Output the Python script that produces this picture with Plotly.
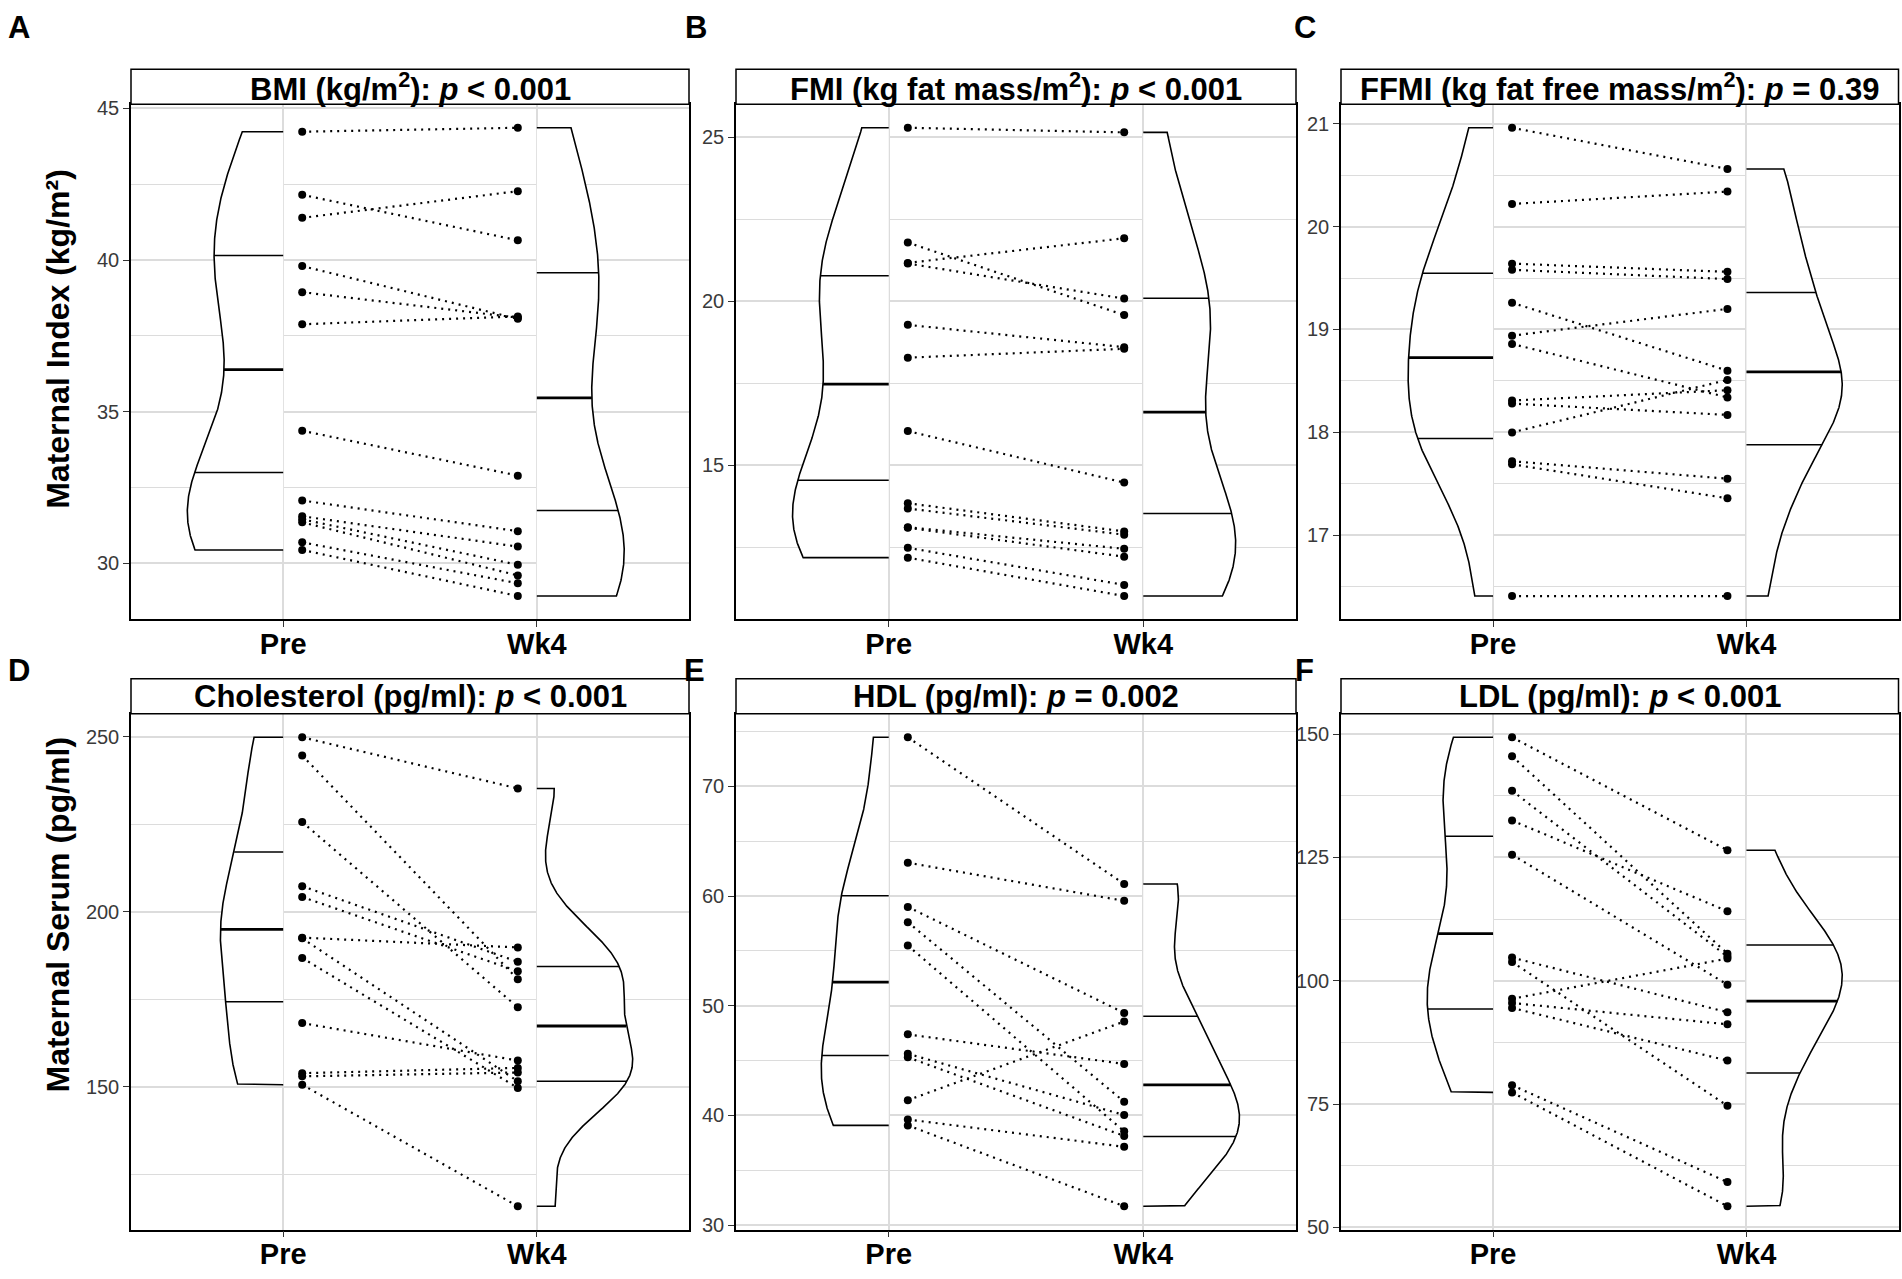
import numpy as np
import plotly.graph_objects as go

# ---------------- data ----------------
groups = ["Pre", "Wk4"]

bmi_pre = [44.23, 42.15, 41.39, 39.80, 38.94, 37.88, 34.37, 32.07, 31.55, 31.45, 31.35, 30.69, 30.44]
bmi_wk4 = [44.36, 40.65, 42.27, 38.06, 38.10, 38.14, 32.89, 31.06, 30.55, 29.95, 29.60, 29.34, 28.92]

fmi_pre = [25.29, 21.79, 21.17, 21.15, 19.28, 18.28, 16.04, 13.84, 13.68, 13.11, 13.09, 12.48, 12.18]
fmi_wk4 = [25.15, 19.58, 21.92, 20.08, 18.60, 18.55, 14.47, 12.98, 12.88, 12.45, 12.21, 11.35, 11.01]

ffmi_pre = [20.96, 20.22, 19.64, 19.58, 19.26, 18.94, 18.86, 18.31, 18.28, 18.00, 17.72, 17.69, 16.41]
ffmi_wk4 = [20.56, 20.34, 19.56, 19.49, 18.60, 19.20, 18.34, 18.41, 18.17, 18.51, 17.55, 17.36, 16.41]

chol_pre = [249.8, 244.6, 225.6, 207.3, 204.2, 192.6, 192.4, 186.8, 168.2, 153.9, 153.0, 150.6]
chol_wk4 = [235.2, 180.7, 172.7, 185.7, 183.0, 189.8, 151.6, 149.7, 157.5, 155.4, 154.1, 115.9]

hdl_pre = [74.47, 63.04, 59.01, 57.62, 55.49, 47.39, 45.62, 45.30, 41.39, 39.63, 39.09]
hdl_wk4 = [61.10, 59.56, 49.34, 41.25, 38.55, 44.69, 40.04, 38.13, 48.56, 37.14, 31.72]

ldl_pre = [149.35, 145.52, 138.52, 132.49, 125.57, 104.70, 103.82, 96.36, 95.50, 94.50, 78.84, 77.38]
ldl_wk4 = [126.47, 105.50, 104.90, 114.09, 99.22, 93.63, 74.67, 104.50, 91.17, 83.83, 59.20, 54.30]

panel_titles = ["BMI (kg/m<sup>2</sup>)", "FMI (kg fat mass/m<sup>2</sup>)",
                "FFMI (kg fat free mass/m<sup>2</sup>)", "Cholesterol (pg/ml)",
                "HDL (pg/ml)", "LDL (pg/ml)"]
p_texts = ["&lt; 0.001", "&lt; 0.001", "= 0.39", "&lt; 0.001", "= 0.002", "&lt; 0.001"]
panel_letters = ["A", "B", "C", "D", "E", "F"]
major_dticks = [5, 5, 1, 50, 10, 25]
row_titles = ["Maternal Index (kg/m²)", "Maternal Serum (pg/ml)"]

panels = [(bmi_pre, bmi_wk4), (fmi_pre, fmi_wk4), (ffmi_pre, ffmi_wk4),
          (chol_pre, chol_wk4), (hdl_pre, hdl_wk4), (ldl_pre, ldl_wk4)]

# ---------------- layout geometry (pixels) ----------------
FW, FH = 1902, 1279
col_x = [(131.0, 689.0), (736.0, 1296.0), (1341.0, 1898.5)]
row_y = [(98.6, 620.2), (715.8, 1238.2)]
strip_h = 35.6
letter_pos = [(19, 21), (696, 21), (1305, 21), (19, 672), (694, 672), (1304, 672)]
ytitle_pos = [(58, 336), (58, 919)]

FONT = "Liberation Sans, Arial, sans-serif"
GRID = "#DCDCDC"
VIOLIN_HALF = 0.378
NUDGE = 0.075


def px_x(p):
    return p / FW


def px_y(p):
    return 1 - p / FH


def kde(vals):
    v = np.asarray(vals, float)
    n = len(v)
    sd = v.std(ddof=1)
    q75, q25 = np.percentile(v, [75, 25])
    lo = min(sd, (q75 - q25) / 1.34)
    if lo <= 0:
        lo = sd
    bw = 0.9 * lo * n ** -0.2
    grid = np.linspace(v.min(), v.max(), 512)
    dens = np.exp(-0.5 * ((grid[:, None] - v[None, :]) / bw) ** 2).sum(1) / (n * bw * np.sqrt(2 * np.pi))
    return grid, dens


fig = go.Figure()
layout = dict(
    width=FW, height=FH, autosize=False,
    margin=dict(l=0, r=0, t=0, b=0),
    paper_bgcolor="white", plot_bgcolor="white",
    showlegend=False, font=dict(family=FONT, color="black"),
    shapes=[], annotations=[],
)

for i, (pre, wk4) in enumerate(panels):
    r, c = divmod(i, 3)
    k = i + 1
    xa = "x" if k == 1 else f"x{k}"
    ya = "y" if k == 1 else f"y{k}"
    xl, xr = col_x[c]
    yt, yb = row_y[r]

    allv = np.array(pre + wk4, float)
    span = allv.max() - allv.min()
    yr = [allv.min() - 0.05 * span, allv.max() + 0.05 * span]
    dt = major_dticks[i]

    common_ax = dict(showline=True, linecolor="black", linewidth=1.5, mirror=True,
                     ticks="outside", ticklen=6, tickwidth=1.3, tickcolor="#333333",
                     showgrid=True, gridcolor=GRID, gridwidth=1.5, zeroline=False)
    layout["xaxis" if k == 1 else f"xaxis{k}"] = dict(
        domain=[px_x(xl), px_x(xr)], anchor=ya, range=[0.4, 2.6],
        tickmode="array", tickvals=[1, 2], ticktext=groups, ticklabelstandoff=-8,
        tickfont=dict(size=29, color="black", family=FONT, weight="bold"),
        **common_ax)
    layout["yaxis" if k == 1 else f"yaxis{k}"] = dict(
        domain=[px_y(yb), px_y(yt)], anchor=xa, range=yr,
        tick0=0, dtick=dt,
        minor=dict(dtick=dt / 2, tick0=0, showgrid=True, gridcolor=GRID, gridwidth=1.1, ticks=""),
        tickfont=dict(size=20, color="#3a3a3a", family=FONT),
        **common_ax)

    # violins (area-scaled within panel)
    g_pre, d_pre = kde(pre)
    g_wk, d_wk = kde(wk4)
    m = max(d_pre.max(), d_wk.max())
    for grid, dens, base, sgn in [(g_pre, d_pre, 1, -1), (g_wk, d_wk, 2, 1)]:
        hw = VIOLIN_HALF * dens / m
        xs = np.concatenate([[base], base + sgn * hw, [base]])
        ys = np.concatenate([[grid[0]], grid, [grid[-1]]])
        fig.add_trace(go.Scatter(x=xs, y=ys, mode="lines", fill="toself", fillcolor="white",
                                 line=dict(color="black", width=1.6), xaxis=xa, yaxis=ya,
                                 hoverinfo="skip"))
        cum = np.cumsum(dens) / dens.sum()
        qy = np.interp([0.25, 0.5, 0.75], cum, grid)
        qw = np.interp(qy, grid, hw)
        for j, (yy, ww) in enumerate(zip(qy, qw)):
            fig.add_trace(go.Scatter(x=[base, base + sgn * ww], y=[yy, yy], mode="lines",
                                     line=dict(color="black", width=2.8 if j == 1 else 1.5),
                                     xaxis=xa, yaxis=ya, hoverinfo="skip"))

    # paired dotted lines
    lx, ly = [], []
    for a, b in zip(pre, wk4):
        lx += [1 + NUDGE, 2 - NUDGE, None]
        ly += [a, b, None]
    fig.add_trace(go.Scatter(x=lx, y=ly, mode="lines",
                             line=dict(color="black", width=2.2, dash="2px,5px"),
                             xaxis=xa, yaxis=ya, hoverinfo="skip"))
    fig.add_trace(go.Scatter(x=[1 + NUDGE] * len(pre) + [2 - NUDGE] * len(wk4), y=pre + wk4,
                             mode="markers", marker=dict(color="black", size=8),
                             xaxis=xa, yaxis=ya))

    # strip
    layout["shapes"].append(dict(type="rect", xref="paper", yref="paper",
                                 x0=px_x(xl), x1=px_x(xr), y0=px_y(yt), y1=px_y(yt - strip_h),
                                 line=dict(color="black", width=1.5), fillcolor="white", layer="above"))
    layout["annotations"].append(dict(
        xref="paper", yref="paper", x=px_x((xl + xr) / 2), y=px_y(yt - strip_h / 2),
        text=f"<b>{panel_titles[i]}: <i>p</i> {p_texts[i]}</b>", showarrow=False,
        xanchor="center", yanchor="middle", font=dict(size=31, color="black", family=FONT)))
    lx_, ly_ = letter_pos[i]
    layout["annotations"].append(dict(
        xref="paper", yref="paper", x=px_x(lx_), y=px_y(ly_), text=f"<b>{panel_letters[i]}</b>",
        showarrow=False, xanchor="center", yanchor="middle", font=dict(size=31, color="black", family=FONT)))

for t, (tx, ty) in zip(row_titles, ytitle_pos):
    layout["annotations"].append(dict(
        xref="paper", yref="paper", x=px_x(tx), y=px_y(ty), text=f"<b>{t}</b>", textangle=-90,
        showarrow=False, xanchor="center", yanchor="middle", font=dict(size=32, color="black", family=FONT)))

fig.update_layout(**layout)
post = ("var gd=document.getElementById('{plot_id}');"
        "document.documentElement.style.margin='0';document.documentElement.style.overflow='hidden';"
        "document.body.style.margin='0';document.body.style.overflow='hidden';"
        "gd.style.position='absolute';gd.style.left='0px';gd.style.top='0px';")
fig.write_html("out.html", config={"displayModeBar": False}, post_script=post)
